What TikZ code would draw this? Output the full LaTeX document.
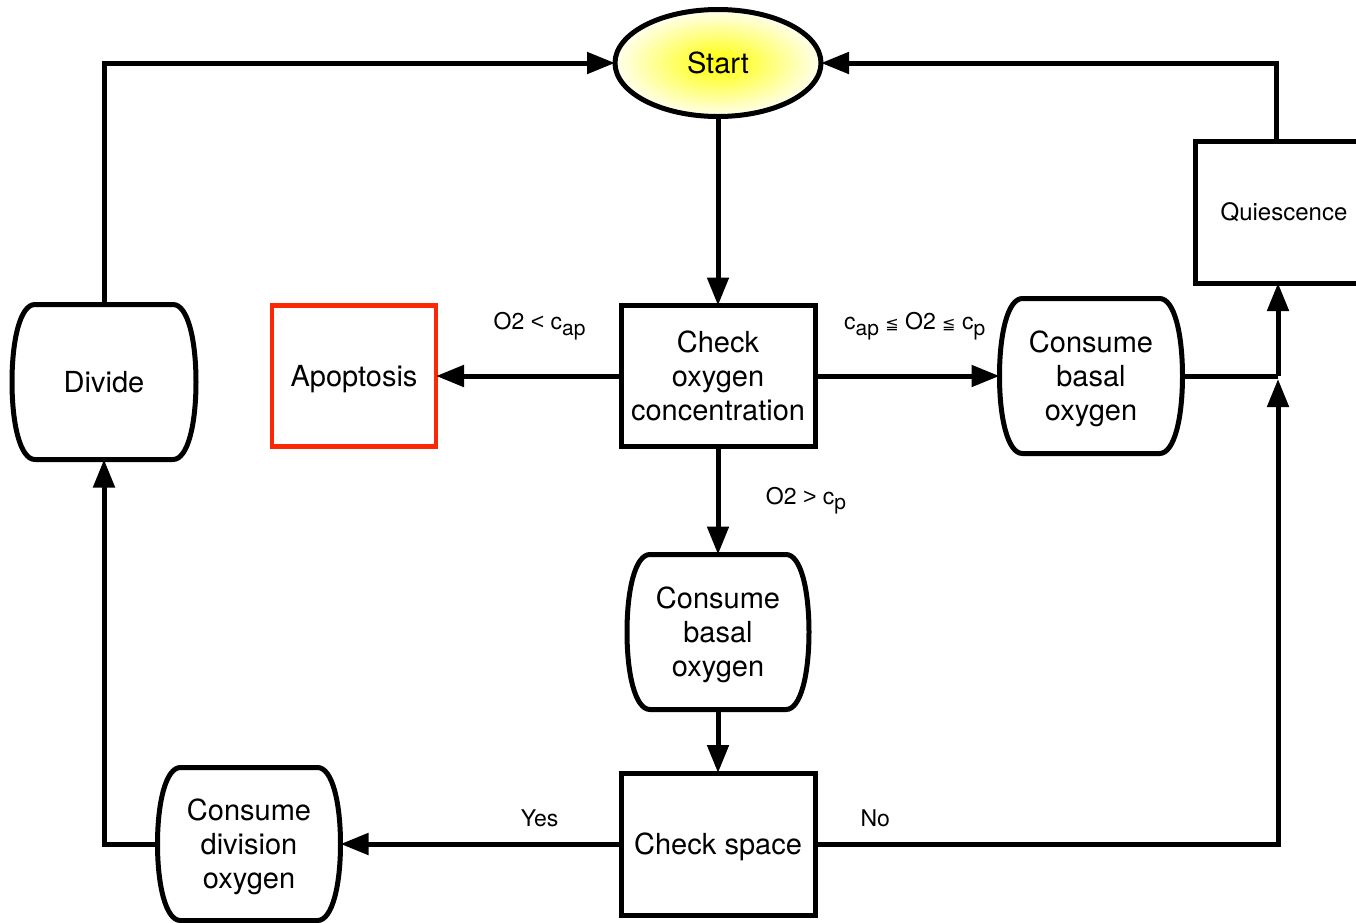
\documentclass[tikz,border=0pt]{standalone}
\usepackage{fontspec}
\setmainfont{TeX Gyre Heros}
\newfontfamily\symfont{DejaVu Sans}
\newfontfamily\arialfont{Liberation Sans}
\usetikzlibrary{arrows.meta,shapes.geometric}
\definecolor{apored}{RGB}{252,40,5}
\tikzset{
  line/.style={line width=2.5pt},
  arr/.style={line width=2.5pt,-{Triangle[length=14pt,width=10.5pt]}},
  txt/.style={align=center,font=\fontsize{14.5}{17}\selectfont,inner sep=0pt,outer sep=0pt,text depth=0pt},
  boxnode/.style={txt,draw,line width=2.5pt,rectangle},
  barrelnode/.style={txt,minimum width=91.5pt,minimum height=77.5pt},
  lbl/.style={font=\fontsize{11.5}{14}\selectfont,inner sep=0pt},
}
\newcommand\sbs[1]{\raisebox{-0.45ex}{\fontsize{10.5}{12}\selectfont #1}}
\newcommand\leqq{{\symfont\fontsize{8}{8}\selectfont ≦}}
\newcommand\lsign[1]{{\arialfont #1}}
\newcommand\drawbarrel[1]{%
  \draw[line width=2.5pt] ([xshift=11.5pt]#1.north west) -- ([xshift=-11.5pt]#1.north east)
    .. controls ([xshift=-4pt]#1.north east) and ([yshift=-18pt]#1.north east) .. (#1.east)
    .. controls ([yshift=18pt]#1.south east) and ([xshift=-4pt]#1.south east) .. ([xshift=-11.5pt]#1.south east)
    -- ([xshift=11.5pt]#1.south west)
    .. controls ([xshift=4pt]#1.south west) and ([yshift=18pt]#1.south west) .. (#1.west)
    .. controls ([yshift=-18pt]#1.north west) and ([xshift=4pt]#1.north west) .. cycle;}
\begin{document}
\begin{tikzpicture}[x=0.5pt,y=-0.5pt]
\clip (0,0) rectangle (1356,922);
% nodes
\node[ellipse,draw,line width=2.5pt,minimum width=103pt,minimum height=53.5pt,inner sep=0pt,outer sep=0pt,
  shading=radial,inner color=yellow,outer color=yellow!6,font=\fontsize{14.5}{17}\selectfont] (start) at (718,63) {Start};
\node[boxnode,minimum width=97pt,minimum height=70.5pt] (co) at (718,376) {Check\\oxygen\\concentration};
\node[boxnode,draw=apored,line width=2.2pt,minimum width=82pt,minimum height=70.5pt] (apo) at (354,376) {Apoptosis};
\node[barrelnode,minimum width=92pt] (div) at (104,382) {Divide};
\node[barrelnode] (cbr) at (1091,376) {Consume\\basal\\oxygen};
\node[boxnode,minimum width=89pt,minimum height=71pt,font=\fontsize{12}{14}\selectfont] (q) at (1284,212) {Quiescence};
\node[barrelnode,minimum width=91pt] (cbm) at (718,632) {Consume\\basal\\oxygen};
\node[boxnode,minimum width=97pt,minimum height=71pt] (cs) at (718,844) {Check space};
\node[barrelnode,minimum height=76.5pt] (cdo) at (249,844) {Consume\\division\\oxygen};
\drawbarrel{div}
\drawbarrel{cbr}
\drawbarrel{cbm}
\drawbarrel{cdo}
\coordinate (jr) at (1278,376);
% connectors
\draw[arr] (start.south) -- (co.north);
\draw[arr] (co.west) -- node[lbl,pos=0.44,yshift=25pt]{O2 \lsign{<} c\sbs{ap}} (apo.east);
\draw[arr] (co.east) -- node[lbl,pos=0.54,yshift=25pt]{c\sbs{ap} \leqq{} O2 \leqq{} c\sbs{p}} (cbr.west);
\draw[arr] (co.south) -- node[lbl,pos=0.5,xshift=44pt]{O2 \lsign{>} c\sbs{p}} (cbm.north);
\draw[arr] (cbm.south) -- (cs.north);
\draw[arr] (cs.west) -- node[lbl,pos=0.29,yshift=13pt]{Yes} (cdo.east);
\draw[arr] (cs.east) -- node[lbl,pos=0.13,yshift=13pt]{No} (cs.east -| jr) -- ([yshift=-1.5pt]jr);
\draw[line] (cbr.east) -- (jr);
\draw[arr] (jr) -- (jr |- q.south);
\draw[arr] ([xshift=-4pt]q.north) |- (start.east);
\draw[arr] (cdo.west) -| (div.south);
\draw[arr] (div.north) |- (start.west);
\end{tikzpicture}
\end{document}
